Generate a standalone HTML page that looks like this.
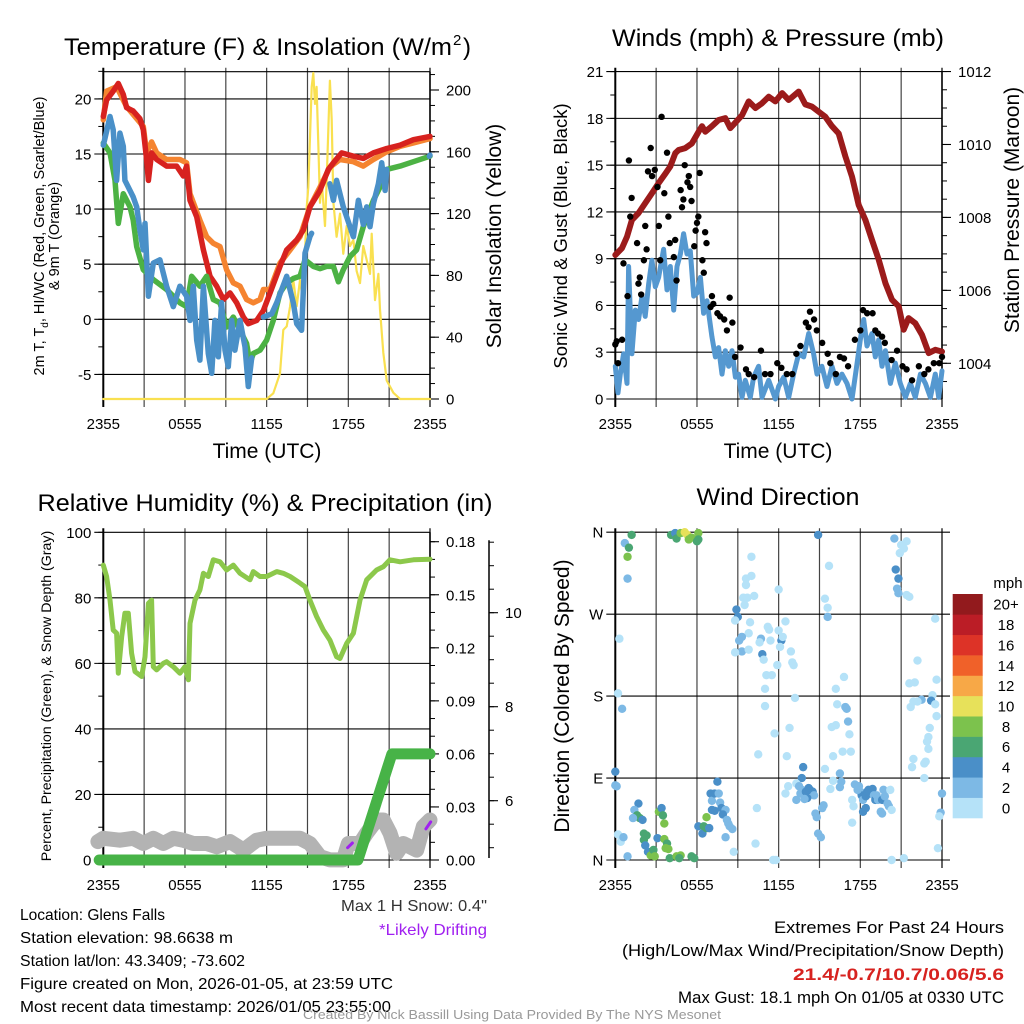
<!DOCTYPE html>
<html><head><meta charset="utf-8"><style>
html,body{margin:0;padding:0;background:#fff;}
svg{display:block;font-family:"Liberation Sans",sans-serif;}
</style></head><body>
<svg id="fig" width="1024" height="1024" viewBox="0 0 1024 1024" xmlns="http://www.w3.org/2000/svg">
<g id="layer"></g>
</svg>
<script>
// ---------- DATA ----------
const hourTicks = [0,6,12,18,24];
const hourTickLabels = ["2355","0555","1155","1755","2355"];
const tempTicks = [-5,0,5,10,15,20];
const solarTicks = [0,40,80,120,160,200];
const windTicks = [0,3,6,9,12,15,18,21];
const presTicks = [1004,1006,1008,1010,1012];
const rhTicks = [0,20,40,60,80,100];
const precipTicks = [0,0.03,0.06,0.09,0.12,0.15,0.18];
const precipTickLabels = ["0.00","0.03","0.06","0.09","0.12","0.15","0.18"];
const snowTicks = [6,8,10];
const dirTicks = [0,90,180,270,360];
const dirTickLabels = ["N","E","S","W","N"];
const speedBinLabels = ["0","2","4","6","8","10","12","14","16","18","20+"];
const speedBinColors = ["#b5e2f8","#7db9e5","#4a8fc8","#4aa673","#7cc24d","#e7e15a","#f7a847","#f06129","#dd3327","#bb1d26","#921a1d"];

const redT = [[0,18.4],[.24,19.9],[.73,20.7],[1.1,21.4],[1.47,20.4],[1.71,19.2],[2.2,18.9],[2.69,18.2],[2.94,17.2],[3.18,14.5],[3.31,12.6],[3.55,15.1],[3.92,14.5],[4.65,13.9],[5.39,13.9],[5.88,13.0],[6.12,13.9],[6.37,10.8],[6.86,9.3],[7.35,6.3],[7.84,3.9],[8.33,3.0],[8.82,1.8],[9.31,2.4],[9.8,1.5],[10.29,0.2],[10.65,-0.4],[11.27,-0.1],[11.76,0.8],[12.25,2.4],[12.98,4.8],[13.47,6.3],[14.21,7.2],[14.7,8.1],[15.18,10.2],[15.92,11.7],[16.53,13.6],[16.9,14.2],[17.51,15.1],[18.37,14.8],[19.1,14.6],[19.84,15.1],[20.82,15.5],[21.8,15.8],[22.78,16.3],[24,16.6]];
const orangeT = [[0,18.1],[.24,20.7],[.98,21.1],[1.71,19.3],[2.94,17.5],[3.18,15.1],[3.55,16.1],[3.92,15.1],[4.65,14.5],[5.63,14.5],[6.12,14.2],[6.37,11.4],[7.1,9.0],[7.59,7.5],[8.08,6.9],[8.57,6.6],[9.06,4.5],[9.55,3.3],[10.04,3.0],[10.53,1.8],[11.02,1.5],[11.51,1.8],[11.76,2.7],[12.25,2.7],[12.98,5.1],[13.72,6.3],[14.45,7.5],[15.18,10.2],[15.92,12.0],[16.65,13.8],[17.39,14.5],[18.37,14.3],[19.1,13.9],[19.84,14.5],[20.82,15.2],[21.8,15.7],[22.78,16.0],[24,16.4]];
const greenTd = [[0,16.0],[.49,15.1],[.86,12.6],[1.1,8.7],[1.47,11.4],[1.96,10.2],[2.2,9.0],[2.45,6.6],[2.94,4.5],[3.67,3.6],[4.65,2.7],[5.63,1.5],[6.12,1.15],[6.49,3.9],[7.1,3.0],[7.59,3.9],[8.08,1.8],[8.57,1.5],[9.06,-0.7],[9.55,0.2],[10.04,-1.0],[10.53,-2.2],[10.78,-4.0],[11.02,-3.1],[11.51,-2.8],[12.0,-1.9],[12.49,-0.1],[12.98,2.4],[13.47,3.3],[13.96,3.7],[14.45,3.9],[14.82,5.4],[15.43,4.8],[15.92,4.6],[16.41,4.8],[16.9,4.8],[17.27,3.4],[17.63,4.5],[18.12,5.7],[18.61,6.3],[19.1,8.4],[19.84,10.8],[20.33,12.0],[20.82,13.6],[21.8,13.9],[22.78,14.3],[24,14.8]];
const blueWC = [[0,15.8],[.12,16.4],[.49,18.4],[.73,17.2],[.98,12.6],[1.22,16.9],[1.47,15.7],[1.59,12.6],[1.84,12.0],[2.2,11.1],[2.45,10.2],[2.69,8.1],[2.94,6.3],[3.06,8.7],[3.31,2.1],[3.67,5.1],[4.16,5.4],[4.65,3.0],[5.14,1.15],[5.63,3.0],[6.12,2.1],[6.37,-0.1],[6.61,3.0],[6.86,-1.9],[7.1,-3.7],[7.35,3.0],[7.71,-3.1],[7.96,-4.9],[8.2,-0.1],[8.45,-3.4],[8.69,1.5],[8.94,-2.8],[9.18,-4.3],[9.43,-0.1],[9.67,-2.8],[10.04,-0.1],[10.41,-2.5],[10.65,-6.1],[10.9,-3.5],null,[11.76,0.2],[12.37,0.5],[12.74,1.5],[13.47,3.9],[13.96,1.5],[14.21,-0.4],[14.57,-1.0],[14.82,6.0],[15.18,7.5],[15.3,7.8],null,[16.65,12.3],[16.9,10.8],[17.14,12.6],[17.63,10.2],[18.12,8.4],[18.37,7.5],[18.74,10.8],[19.1,8.6],[19.35,10.2],[19.59,8.4],[19.84,10.5],[20.21,12.3],[20.45,14.2],[20.7,11.7],[20.82,13.6],null,[23.95,14.8],[24,14.9]];
const solar = [[0,0],[12.0,0],[12.49,3.7],[12.98,16.6],[13.22,44.7],[13.47,47],[13.72,60],[13.96,77],[14.21,60],[14.45,77],[14.7,62],[14.82,94],[14.94,124],[15.06,137],[15.31,202],[15.43,211],[15.55,191],[15.67,202],[15.8,163],[15.92,127],[16.04,142],[16.29,112],[16.41,142],[16.65,206],[16.78,181],[16.9,127],[17.14,105],[17.39,120],[17.63,94],[17.88,112],[18.12,99],[18.37,103],[18.61,83],[18.86,75],[19.1,99],[19.35,90],[19.59,81],[19.72,107],[19.96,64],[20.21,81],[20.33,58],[20.57,30],[20.82,12],[21.31,4],[21.8,0],[24,0]];

const pressure = [[0,1006.97],[.49,1007.16],[.86,1007.47],[1.22,1007.93],[1.71,1008.12],[2.2,1008.39],[2.69,1008.66],[3.18,1008.94],[3.67,1009.2],[4.04,1009.4],[4.41,1009.76],[4.65,1009.85],[5.14,1009.9],[5.63,1010.03],[6.12,1010.35],[6.37,1010.5],[6.61,1010.35],[7.1,1010.5],[7.59,1010.67],[8.08,1010.72],[8.45,1010.45],[8.82,1010.6],[9.31,1010.8],[9.8,1011.18],[10.29,1011.0],[10.78,1011.13],[11.27,1011.31],[11.76,1011.18],[12.25,1011.41],[12.74,1011.22],[13.47,1011.45],[13.96,1011.1],[14.45,1011.04],[14.94,1010.9],[15.43,1010.76],[15.92,1010.5],[16.41,1010.3],[16.9,1009.67],[17.39,1009.12],[17.88,1008.34],[18.37,1007.93],[18.86,1007.38],[19.35,1006.84],[19.84,1006.2],[20.33,1005.74],[20.82,1005.56],[21.19,1004.92],[21.55,1005.24],[22.04,1005.1],[22.53,1004.78],[23.02,1004.28],[23.51,1004.37],[24,1004.32]];
const windSpeed = [[0,2.1],[.2,0.4],[.37,1.6],[.61,2.9],[.86,1.0],[.98,8.5],[1.22,2.9],[1.47,5.7],[1.71,5.1],[1.96,6.6],[2.2,5.3],[2.45,7.4],[2.69,8.9],[2.94,7.2],[3.18,7.8],[3.55,9.6],[3.8,7.0],[4.04,8.5],[4.29,5.7],[4.53,8.5],[4.78,9.3],[5.02,10.6],[5.27,9.3],[5.51,9.5],[5.76,6.6],[6.0,6.8],[6.25,7.8],[6.49,5.5],[6.74,6.3],[7.1,4.0],[7.35,2.7],[7.59,3.3],[7.84,1.6],[8.08,3.1],[8.33,2.1],[8.57,3.1],[8.82,1.4],[9.06,1.6],[9.31,0.1],[9.55,1.2],[9.92,0.1],[10.16,1.4],[10.53,2.1],[10.78,0.1],[11.27,1.2],[11.76,0],[12.0,0.8],[12.37,1.4],[12.74,0.1],[13.1,1.6],[13.47,2.9],[13.84,2.7],[14.21,4.2],[14.57,2.9],[14.82,1.6],[15.18,2.1],[15.55,0.8],[15.92,2.1],[16.29,1.0],[16.65,1.6],[17.02,1.0],[17.39,0],[17.76,2.3],[18.0,3.8],[18.25,5.1],[18.49,3.4],[18.86,4.2],[19.1,2.7],[19.35,3.8],[19.59,2.1],[19.84,3.1],[20.21,1.0],[20.57,2.3],[20.94,1.0],[21.31,0.1],[21.68,1.0],[22.04,0.1],[22.41,1.6],[22.78,1.0],[23.15,0.1],[23.51,1.6],[23.76,0.1],[24,1.8]];
const gustTimes = [0,0.1,0.2,0.5,0.6,0.9,1.0,1.1,1.2,1.6,1.7,1.8,1.9,2.1,2.2,2.3,2.4,2.6,2.7,2.9,3.1,3.2,3.3,3.4,3.6,3.8,3.9,4.0,4.3,4.4,4.5,4.8,4.9,5.0,5.1,5.3,5.4,5.5,5.6,5.8,5.9,6.0,6.1,6.2,6.4,6.5,6.6,6.7,7.0,7.1,7.2,7.5,7.7,8.0,8.2,8.4,8.6,8.8,9.2,9.6,9.8,10.2,10.7,11.0,11.4,11.9,12.2,12.6,13.0,13.3,13.6,14.0,14.2,14.3,14.6,14.8,15.2,15.6,15.8,16.2,16.5,16.8,17.1,17.6,18.0,18.2,18.5,18.9,19.1,19.3,19.6,19.8,20.3,20.7,21.1,21.4,21.8,22.3,22.7,23.0,23.4,23.8,24.0];
const gustValues = [3.5,3.7,2.3,3.8,8.7,6.6,15.3,11.7,12.9,10.0,7.4,7.8,6.7,8.9,11.1,9.6,14.6,16.1,14.3,14.7,13.6,11.1,8.9,18.1,13.2,15.8,11.7,10.0,9.1,10.2,7.6,13.4,12.3,12.8,15.0,13.9,14.3,13.6,12.7,9.8,10.8,11.3,11.7,14.5,8.9,8.1,10.7,10.0,5.9,6.6,6.1,5.5,5.3,5.1,4.4,6.5,4.9,2.7,3.3,1.9,1.6,1.4,3.1,1.6,1.6,2.3,2.0,1.6,1.6,2.9,3.4,4.9,4.6,5.6,5.1,4.4,3.6,2.9,2.3,1.6,2.7,2.6,2.1,3.8,4.4,5.7,5.5,5.5,4.4,4.2,4.0,3.6,2.5,3.1,2.1,1.9,1.2,2.1,1.6,1.9,2.3,2.3,2.7];

const rh = [[0,90],[.24,86.5],[.49,79.3],[.73,70.2],[.98,69.2],[1.1,57],[1.35,68.2],[1.59,75.3],[1.84,75.3],[2.08,63.1],[2.33,57.5],[2.82,56],[3.06,62],[3.31,78.3],[3.55,79.3],[3.67,59],[3.92,58],[4.41,60],[4.65,60.5],[5.14,59],[5.63,57],[6.0,59],[6.25,55],[6.37,72.2],[6.74,79.3],[7.1,82.4],[7.35,87.5],[7.71,86.5],[8.08,91.6],[8.57,91],[9.06,88.5],[9.55,90],[10.04,87.5],[10.78,85.5],[11.02,88],[11.51,86.5],[12.0,86.5],[12.74,88],[13.22,87.5],[13.72,86.5],[14.45,84.5],[14.82,83.4],[15.18,79.3],[15.67,74.3],[16.16,70.2],[16.65,67.1],[17.14,62],[17.39,61.5],[17.88,66.1],[18.37,69.2],[18.86,79.3],[19.35,85.5],[20.08,88.5],[20.57,89.5],[21.06,91.6],[21.8,91],[22.78,91.6],[24,91.8]];
const precip = [[-0.3,0],[18.7,0],[21.2,0.06],[24,0.06]];
const snowDepth = [[-0.4,5.13],[0,5.2],[1.22,5.16],[2.2,5.2],[2.94,5.09],[3.67,5.2],[4.41,5.09],[5.14,5.2],[5.88,5.16],[6.61,5.09],[7.59,5.09],[8.33,5.02],[9.31,5.13],[10.29,4.95],[11.27,5.16],[12.0,5.2],[14.45,5.2],[15.18,5.09],[15.92,4.81],[16.65,4.74],[17.63,4.74],[18.0,5.09],[18.86,5.09],[19.35,5.31],[20.08,5.59],[20.57,5.59],[21.06,5.31],[21.55,4.88],[22.04,5.09],[23.02,4.95],[23.51,5.45],[24,5.59]];
const drift1 = [[17.95,5.0],[18.3,5.1]];
const drift2 = [[23.7,5.4],[24.05,5.55]];

const dirTimes = [0.7,1.2,1.0,0.9,0.9,0.3,0.2,0.5,0,0,0.1,0.2,0.4,0.6,0.9,
4.1,4.4,4.5,4.8,5.1,5.3,5.4,5.6,6.0,6.1,6.1,
1.7,1.4,1.6,1.8,2.0,1.3,2.1,2.3,2.1,2.2,2.4,2.6,2.7,2.8,2.9,3.1,3.2,3.4,3.5,3.6,3.6,3.8,3.7,3.9,4.0,4.5,4.8,4.7,5.6,5.8,
6.1,6.4,6.5,6.7,6.7,6.9,7.0,7.1,7.3,7.5,7.6,7.7,7.1,7.3,7.8,8.1,7.9,8.2,8.3,8.4,8.6,8.1,8.7,
10.0,9.6,10.0,9.6,9.4,9.7,10.2,9.5,8.9,9.0,8.8,9.9,9.8,9.3,9.1,10.7,10.6,11.4,12.2,12.1,12.0,11.2,11.3,12.5,12.3,9.3,8.8,9.8,10.8,10.9,12.9,13.0,13.1,11.9,11.1,11.5,11.0,12.0,13.2,11.0,11.7,12.8,10.5,12.6,10.4,10.3,11.6,11.8,
13.8,13.7,13.3,12.7,12.5,13.5,13.6,13.7,14.0,14.2,14.3,14.5,14.6,14.1,13.9,13.3,14.7,14.8,15.3,15.2,14.9,15.1,14.9,15.4,15.4,15.6,15.6,15.7,15.9,16.2,16.3,16.2,16.8,16.9,17.0,17.1,17.2,16.0,16.7,17.3,16.5,16.6,16.0,16.5,15.8,17.4,17.4,17.5,
17.6,17.9,18.0,18.1,18.2,18.4,18.5,18.6,18.7,18.9,19.0,19.1,19.2,19.3,19.6,19.7,19.8,20.0,20.1,19.5,19.6,18.2,18.4,17.8,20.2,20.3,20.3,21.2,
20.5,20.6,20.8,20.7,20.8,21.4,21.6,21.4,21.2,20.9,21.0,23.5,22.2,21.6,22.0,23.6,23.3,22.5,23.2,22.2,21.9,21.7,23.5,23.6,23.1,23.0,22.9,23.0,22.8,22.7,21.9,21.8,22.7,24.0,23.9,23.8,23.7];
const dirDegrees = [348,357,343,333,309,243,183,166,97,82,81,28,20,25,4,
357,359,353,359,360,357,352,354,350,359,352,
62,55,49,46,44,46,29,27,22,16,9,5,5,11,4,24,53,57,49,40,23,18,13,12,2,4,5,2,4,2,
37,29,37,35,47,35,73,65,73,86,73,63,55,54,57,55,50,44,40,37,34,25,9,
333,309,312,302,288,288,290,280,275,267,263,261,249,245,241,243,239,241,241,234,252,256,253,262,245,229,228,231,226,220,229,217,214,214,203,203,188,297,178,169,139,145,116,114,57,18,0,0,
102,90,84,81,73,81,73,77,75,79,77,75,71,68,67,66,51,47,60,57,29,25,357,100,287,277,267,323,146,148,171,188,201,168,166,152,138,114,119,119,95,86,87,80,78,41,66,59,
83,81,75,71,66,70,75,77,73,78,71,66,71,66,66,77,70,62,59,53,51,53,57,77,77,55,0,2,
353,319,309,298,293,291,289,350,342,337,346,265,219,194,195,198,181,176,175,174,174,168,171,158,145,135,130,122,108,106,111,102,90,73,52,48,13];
const dirSpeeds = [3,7,7,9,3,1,1,3,5,3,3,1,1,3,3,
7,5,7,9,11,11,9,9,7,9,7,
5,3,7,7,5,3,7,7,7,5,5,9,9,7,9,5,9,5,7,9,9,7,9,9,7,9,9,7,7,7,
5,5,7,7,9,5,5,3,5,5,3,3,5,5,5,3,5,3,3,3,3,3,1,
1,1,1,1,1,1,1,1,5,5,1,1,1,3,3,3,1,1,5,1,1,1,1,1,1,3,1,1,5,1,1,1,1,1,1,1,1,1,1,1,1,1,1,1,1,1,1,1,
5,5,1,1,1,3,3,3,5,5,5,5,3,5,3,3,3,3,3,3,3,3,5,1,1,1,3,1,1,1,1,1,1,3,3,3,1,1,1,1,3,3,1,3,1,1,1,1,
3,3,3,5,3,5,5,5,5,5,3,5,3,3,5,3,3,3,3,3,3,5,5,3,1,1,1,1,
3,5,5,3,3,1,1,1,1,1,1,1,1,1,1,1,1,3,5,1,1,1,1,1,1,1,1,1,1,1,1,1,1,3,3,1,1];

// ---------- HELPERS ----------
const NS = "http://www.w3.org/2000/svg";
const root = document.getElementById('layer');
function mk(tag, attrs, parent){ const e=document.createElementNS(NS,tag); for(const k in attrs) e.setAttribute(k,attrs[k]); (parent||root).appendChild(e); return e; }
function txt(s, x, y, size, anchor, parent, extra){ const e=mk('text',Object.assign({x:x,y:y,'font-size':size,'text-anchor':anchor||'middle',fill:'#000'},extra||{}),parent); e.textContent=s; return e; }
function linePath(data, X, Y){ let d='', pen=false; for(const p of data){ if(p===null){pen=false;continue;} d+=(pen?'L':'M')+X(p[0]).toFixed(1)+','+Y(p[1]).toFixed(1); pen=true; } return d; }
function speedColor(s){ return speedBinColors[Math.min(10,Math.max(0,Math.floor(s/2)))]; }

function frame(g, x0, x1, yT, yB){
  for(let h=0; h<=24; h+=3){
    const x = x0 + h/24*(x1-x0);
    const l = mk('line',{x1:x,x2:x,y1:yT-4,y2:yB+8,stroke:(h===0||h===24)?'#000':'#444','stroke-width':(h===0)?2:1.2},g);
    
    
  }
  hourTicks.forEach((h,i)=>{
    const x = x0 + h/24*(x1-x0);
    const t = txt(hourTickLabels[i], x, yB+30, 15, 'middle', g);
    
    
  });
}
function hgrid(g, x0, x1, Y, ticks, labels, minorStep, lo, hi, yT, yB){
  ticks.forEach((v,i)=>{
    const y=Y(v);
    mk('line',{x1:x0-9,x2:x1,y1:y,y2:y,stroke:'#000','stroke-width':1.1},g);
    const t=txt(labels?labels[i]:String(v), x0-12, y+5.5, 15, 'end', g);
    
    
  });
  for(let v=lo; v<=hi+1e-9; v+=minorStep){ const y=Y(v); if(y<yT-0.5||y>yB+0.5) continue; mk('line',{x1:x0-5,x2:x0,y1:y,y2:y,stroke:'#000','stroke-width':1},g); }
}
function rightAxis(g, ax, Y, ticks, labels, minorStep, lo, hi, yT, yB, lx){
  mk('line',{x1:ax,x2:ax,y1:yT,y2:yB,stroke:'#000','stroke-width':1.5},g);
  ticks.forEach((v,i)=>{ const y=Y(v); mk('line',{x1:ax,x2:ax+9,y1:y,y2:y,stroke:'#000','stroke-width':1.1},g);
    const t=txt(labels?labels[i]:String(v), lx, y+5.5, 15, 'start', g);
    
     });
  for(let v=lo; v<=hi+1e-9; v+=minorStep){ const y=Y(v); if(y<yT-0.5||y>yB+0.5) continue; mk('line',{x1:ax,x2:ax+5,y1:y,y2:y,stroke:'#000','stroke-width':1},g); }
}
function series(g, data, X, Y, color, w, name){
  const p = mk('path',{d:linePath(data,X,Y),fill:'none',stroke:color,'stroke-width':w,'stroke-linejoin':'round','stroke-linecap':'round'},g);
  
  
  return p;
}

// ---------- PANEL 1: Temperature ----------
{
  const g = mk('g',{});  
  const x0=103.3,x1=430,yT=71.7,yB=399;
  const X=h=>x0+h/24*(x1-x0), Y=v=>319.3-v*11.02, YS=v=>399-v*1.545;
  frame(g,x0,x1,yT,yB);
  hgrid(g,x0,x1,Y,tempTicks,null,2.5,-7.5,22.5,yT,yB);
  mk('line',{x1:x0,x2:x1,y1:yT,y2:yT,stroke:'#000','stroke-width':1.2},g);
  mk('line',{x1:x0,x2:x1,y1:yB,y2:yB,stroke:'#000','stroke-width':1.2},g);
  rightAxis(g,x1,YS,solarTicks,null,10,0,210,yT,yB,446);
  const cg = mk('g',{'clip-path':'url(#c1)'},g);
  series(cg,solar,X,YS,'#f9e050',2.2,'solar-insolation-line');
  series(cg,orangeT,X,Y,'#f58430',5.5,'temp-9m-line');
  series(cg,redT,X,Y,'#d7221f',5.5,'temp-2m-line');
  series(cg,greenTd,X,Y,'#4cb244',5.5,'dewpoint-line');
  series(cg,blueWC,X,Y,'#4a90c8',5.5,'windchill-line');
  const t1=txt('Temperature (F) & Insolation (W/m',64,55,24,'start',g,{textLength:388,lengthAdjust:'spacingAndGlyphs'});  
  const sup=txt('2',453,45,15,'start',g);  
  const sp2=txt(')',463,55,24,'start',g);  
  const xt=txt('Time (UTC)',267,458,21,'middle',g);  
  const yl=mk('text',{transform:'translate(44,236) rotate(-90)','font-size':14.5,'text-anchor':'middle'},g);
   
  yl.innerHTML='2m T, T<tspan font-size="10" dy="4">d</tspan><tspan dy="-4">, HI/WC (Red, Green, Scarlet/Blue)</tspan>';
  const yl2=txt('& 9m T (Orange)',0,0,14.5,'middle',g,{transform:'translate(59,236) rotate(-90)'});  
  const yr=txt('Solar Insolation (Yellow)',0,0,21,'middle',g,{transform:'translate(501,236) rotate(-90)'});  
}
// ---------- PANEL 2: Winds ----------
{
  const g = mk('g',{});  
  const x0=615.3,x1=942,yT=71.7,yB=399;
  const X=h=>x0+h/24*(x1-x0), Y=v=>399-v*15.59, YP=v=>363.3-(v-1004)*36.47;
  frame(g,x0,x1,yT,yB);
  hgrid(g,x0,x1,Y,windTicks,null,1.5,0,21,yT,yB);
  rightAxis(g,x1,YP,presTicks,null,0.5,1003,1012,yT,yB,958);
  series(g,pressure,X,YP,'#9b1b1b',6,'pressure-line');
  series(g,windSpeed,X,Y,'#5598d0',5,'wind-speed-line');
  gustTimes.forEach((h,i)=>{
    const c=mk('circle',{cx:X(h),cy:Y(gustValues[i]),r:3.2,fill:'#000'},g);
    
    
  });
  const t=txt('Winds (mph) & Pressure (mb)',778,46,24,'middle',g,{textLength:332,lengthAdjust:'spacingAndGlyphs'});  
  const xt=txt('Time (UTC)',778,458,21,'middle',g);  
  const yl=txt('Sonic Wind & Gust (Blue, Black)',0,0,18.5,'middle',g,{transform:'translate(567,236) rotate(-90)'});  
  const yr=txt('Station Pressure (Maroon)',0,0,21,'middle',g,{transform:'translate(1019,210) rotate(-90)'});  
}
// ---------- PANEL 3: RH & Precip ----------
{
  const g = mk('g',{});  
  const x0=103.3,x1=430,yT=532.3,yB=860;
  const X=h=>x0+h/24*(x1-x0), Y=v=>860-v*3.277, YP=v=>860-v*1768.3, YS=v=>800.7-(v-6)*47;
  frame(g,x0,x1,yT,yB);
  hgrid(g,x0,x1,Y,rhTicks,null,10,0,100,yT,yB);
  rightAxis(g,x1,YP,precipTicks,precipTickLabels,0.01,0,0.18,yT,yB,446);
  mk('line',{x1:489,x2:489,y1:yT+8,y2:yB-2,stroke:'#000','stroke-width':1.5},g);
  snowTicks.forEach(v=>{ const y=YS(v); mk('line',{x1:489,x2:498,y1:y,y2:y,stroke:'#000','stroke-width':1.1},g);
    const t=txt(String(v),505,y+5.5,15,'start',g);   });
  for(let v=5; v<=11.5; v+=0.5){ const y=YS(v); if(y<yT+8||y>yB) continue; mk('line',{x1:489,x2:494,y1:y,y2:y,stroke:'#000','stroke-width':1},g); }
  series(g,snowDepth,X,YS,'#b3b3b3',15,'snow-depth-line');
  series(g,drift1,X,YS,'#a020f0',3,'drifting-mark');
  series(g,drift2,X,YS,'#a020f0',3,'drifting-mark');
  series(g,precip,X,YP,'#47b347',11,'precipitation-line');
  series(g,rh,X,Y,'#8cc84b',5,'relative-humidity-line');
  const t=txt('Relative Humidity (%) & Precipitation (in)',265,511,24,'middle',g,{textLength:455,lengthAdjust:'spacingAndGlyphs'});  
  const yl=txt('Percent, Precipitation (Green), & Snow Depth (Gray)',0,0,14.2,'middle',g,{transform:'translate(51,696) rotate(-90)'});  
}
// ---------- PANEL 4: Wind Direction ----------
{
  const g = mk('g',{});  
  const x0=615.3,x1=942,yT=532.3,yB=860;
  const X=h=>x0+h/24*(x1-x0), Y=v=>860-v*0.9106;
  frame(g,x0,x1,yT,yB);
  hgrid(g,x0,x1+8,Y,dirTicks,dirTickLabels,360,0,0,yT,yB);
  dirTimes.forEach((h,i)=>{
    const c=mk('circle',{cx:X(h),cy:Y(dirDegrees[i]),r:4.2,fill:speedColor(dirSpeeds[i])},g);
    
    
  });
  const t=txt('Wind Direction',778,505,24,'middle',g,{textLength:163,lengthAdjust:'spacingAndGlyphs'});  
  const yl=txt('Direction (Colored By Speed)',0,0,21,'middle',g,{transform:'translate(569,696) rotate(-90)'});  
  const cb = mk('g',{},g);  
  const bh=(818-594)/11;
  speedBinColors.forEach((c,i)=>{
    const r=mk('rect',{x:952.7,y:818-(i+1)*bh,width:30,height:bh+0.3,fill:c},cb);
    
    
    const l=txt(speedBinLabels[i],1006,818-(i+0.5)*bh+5.5,15,'middle',cb);
    
    
  });
  const m=txt('mph',1008,588,15,'middle',cb);  
}
// ---------- FOOTER TEXT ----------
{
  const g = mk('g',{});  
  const left=["Location: Glens Falls","Station elevation: 98.6638 m","Station lat/lon: 43.3409; -73.602","Figure created on Mon, 2026-01-05, at 23:59 UTC","Most recent data timestamp: 2026/01/05 23:55:00"];
  const leftW=[145,213,225,373,371];
  left.forEach((s,i)=>{ const t=txt(s,20,920+i*23,16,'start',g,{textLength:leftW[i],lengthAdjust:'spacingAndGlyphs'});   });
  let t=txt('Max 1 H Snow: 0.4"',487,911,16,'end',g,{fill:'#333',textLength:146,lengthAdjust:'spacingAndGlyphs'});  
  t=txt('*Likely Drifting',487,935,16,'end',g,{fill:'#a020f0',textLength:108,lengthAdjust:'spacingAndGlyphs'});  
  t=txt('Extremes For Past 24 Hours',1004,933,17,'end',g,{textLength:230,lengthAdjust:'spacingAndGlyphs'});  
  t=txt('(High/Low/Max Wind/Precipitation/Snow Depth)',1004,956,17,'end',g,{textLength:382,lengthAdjust:'spacingAndGlyphs'});  
  t=txt('21.4/-0.7/10.7/0.06/5.6',1004,980,17,'end',g,{fill:'#d7221f','font-weight':'bold',textLength:211,lengthAdjust:'spacingAndGlyphs'});  
  t=txt('Max Gust: 18.1 mph On 01/05 at 0330 UTC',1004,1003,17,'end',g,{textLength:326,lengthAdjust:'spacingAndGlyphs'});  
  t=txt('Created By Nick Bassill Using Data Provided By The NYS Mesonet',512,1019,12.5,'middle',g,{fill:'#999',textLength:418,lengthAdjust:'spacingAndGlyphs'});  
}
const defs=mk('defs',{},document.getElementById('fig'));
const cp=mk('clipPath',{id:'c1'},defs); mk('rect',{x:90,y:60,width:345,height:341},cp);
</script>
</body></html>
